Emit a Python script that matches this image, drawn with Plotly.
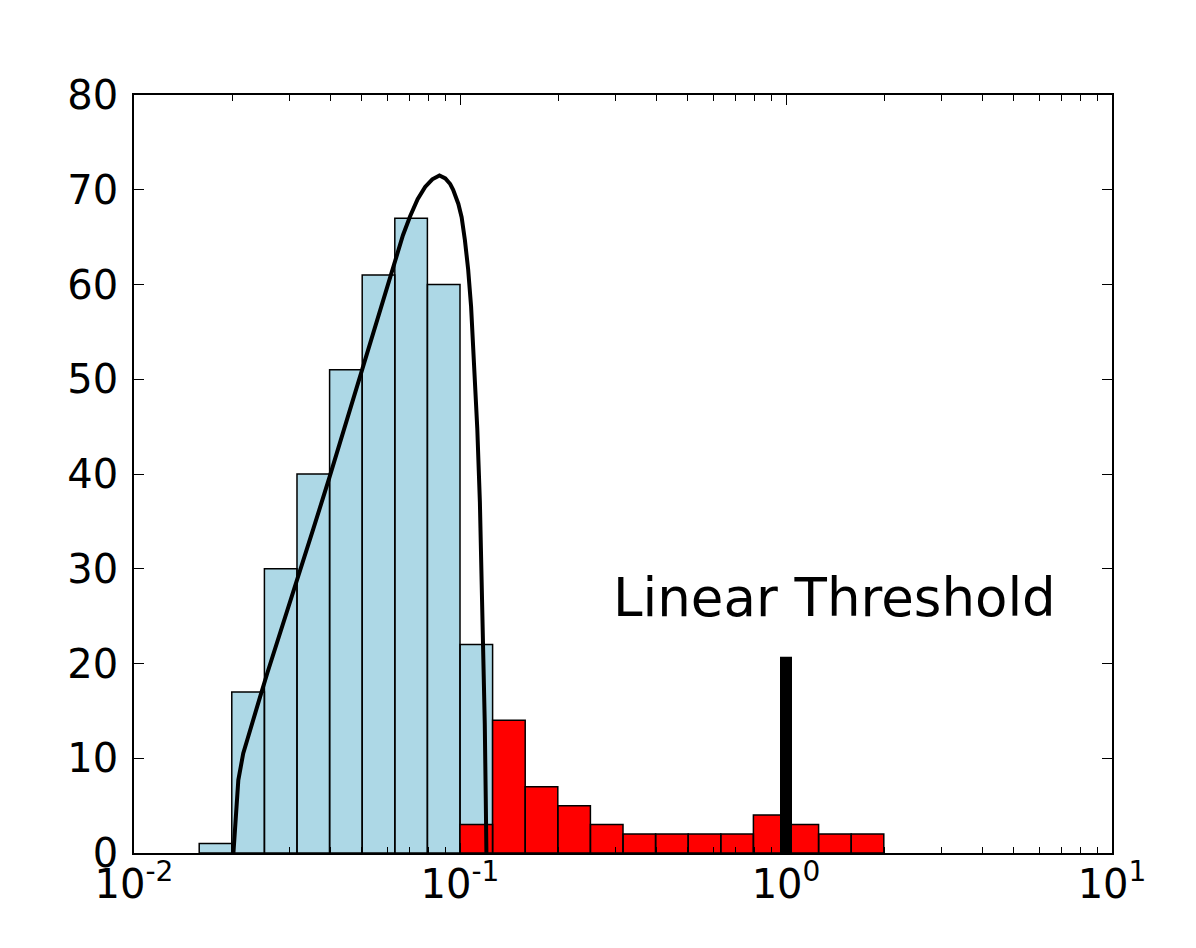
import numpy as np
import plotly.graph_objects as go

# --- data ---
blue_edges = [0.01585, 0.01995, 0.02512, 0.03162, 0.03981, 0.05012,
              0.06310, 0.07943, 0.10000, 0.12589]
blue_counts = [1, 17, 30, 40, 51, 61, 67, 60, 22]

red_edges = [0.10000, 0.12589, 0.15849, 0.19953, 0.25119, 0.31623, 0.39811,
             0.50119, 0.63096, 0.79433, 1.00000, 1.25893, 1.58489, 1.99526]
red_counts = [3, 14, 7, 5, 3, 2, 2, 2, 2, 4, 3, 2, 2]

fit_x = [0.020184, 0.020417, 0.020654, 0.020893, 0.021281, 0.021627,
         0.022284, 0.022961, 0.023659, 0.024378, 0.025645, 0.027733,
         0.031623, 0.035481, 0.039811, 0.044668, 0.050119, 0.056234,
         0.063096, 0.066834, 0.070307, 0.074131, 0.078163, 0.082224,
         0.086497, 0.090157, 0.093325, 0.095279, 0.098855, 0.101158,
         0.103514, 0.105925, 0.108143, 0.109901, 0.111429, 0.112980,
         0.115080, 0.116680, 0.118304, 0.119124, 0.119950, 0.120504]
fit_y = [0.0, 3.2, 5.5, 7.7, 9.2, 10.5,
         12.0, 13.4, 15.0, 16.5, 19.0, 22.6,
         28.6, 34.2, 39.7, 45.4, 51.0, 57.0,
         62.6, 65.2, 67.2, 69.0, 70.3, 71.1,
         71.5, 71.2, 70.6, 70.0, 68.5, 67.1,
         64.7, 61.6, 57.7, 53.2, 49.0, 44.8,
         37.0, 29.2, 21.4, 13.6, 5.8, 0.0]

threshold_x = 1.0
threshold_height = 20.7
label_text = "Linear Threshold"
label_x = 0.29
label_y = 27.0

x_tickvals = [0.01, 0.1, 1, 10]
x_ticktext = ["10<sup>-2</sup>", "10<sup>-1</sup>", "10<sup>0</sup>", "10<sup>1</sup>"]
y_tickvals = [0, 10, 20, 30, 40, 50, 60, 70, 80]


def hist_polys(edges, counts):
    xs, ys = [], []
    for i, c in enumerate(counts):
        l, r = edges[i], edges[i + 1]
        xs += [l, l, r, r, l, None]
        ys += [0, c, c, 0, 0, None]
    return xs, ys


FONT = "DejaVu Sans"
fig = go.Figure()

bx, by = hist_polys(blue_edges, blue_counts)
fig.add_trace(go.Scatter(x=bx, y=by, mode="lines", fill="toself",
                         fillcolor="#ADD8E6", line=dict(color="black", width=1.5),
                         hoverinfo="skip"))
rx, ry = hist_polys(red_edges, red_counts)
fig.add_trace(go.Scatter(x=rx, y=ry, mode="lines", fill="toself",
                         fillcolor="#FF0000", line=dict(color="black", width=1.5),
                         hoverinfo="skip"))
fig.add_trace(go.Scatter(x=fit_x, y=fit_y, mode="lines",
                         line=dict(color="black", width=4)))
fig.add_trace(go.Scatter(x=[threshold_x, threshold_x], y=[0, threshold_height],
                         mode="lines", line=dict(color="black", width=12)))

fig.add_annotation(x=np.log10(label_x), y=label_y, xref="x", yref="y",
                   text=label_text, showarrow=False, xanchor="left", yanchor="middle",
                   font=dict(family=FONT, size=53, color="black"))

minor_vals = [k * 10.0 ** e for e in (-2, -1, 0) for k in range(2, 10)]

fig.update_layout(
    width=1180, height=932,
    margin=dict(l=126, r=76, t=87, b=87),
    paper_bgcolor="white", plot_bgcolor="white",
    showlegend=False,
    font=dict(family=FONT, size=40, color="black"),
    xaxis=dict(type="log", range=[-2, 1], tickmode="array",
               tickvals=x_tickvals, ticktext=x_ticktext,
               ticks="inside", ticklen=10, tickwidth=1.2, tickcolor="black",
               showline=True, linecolor="black", linewidth=1.8, mirror="ticks",
               showgrid=False, zeroline=False, ticklabelstandoff=-5,
               tickfont=dict(family=FONT, size=40, color="black"),
               minor=dict(tickmode="array", tickvals=minor_vals, ticks="inside",
                          ticklen=6, tickwidth=1, tickcolor="black", showgrid=False)),
    yaxis=dict(range=[0, 80], tickmode="array", tickvals=y_tickvals,
               ticks="inside", ticklen=10, tickwidth=1.2, tickcolor="black",
               showline=True, linecolor="black", linewidth=1.8, mirror="ticks",
               showgrid=False, zeroline=False, ticklabelstandoff=6,
               tickfont=dict(family=FONT, size=40, color="black")),
)

fig.write_html("out.html")
